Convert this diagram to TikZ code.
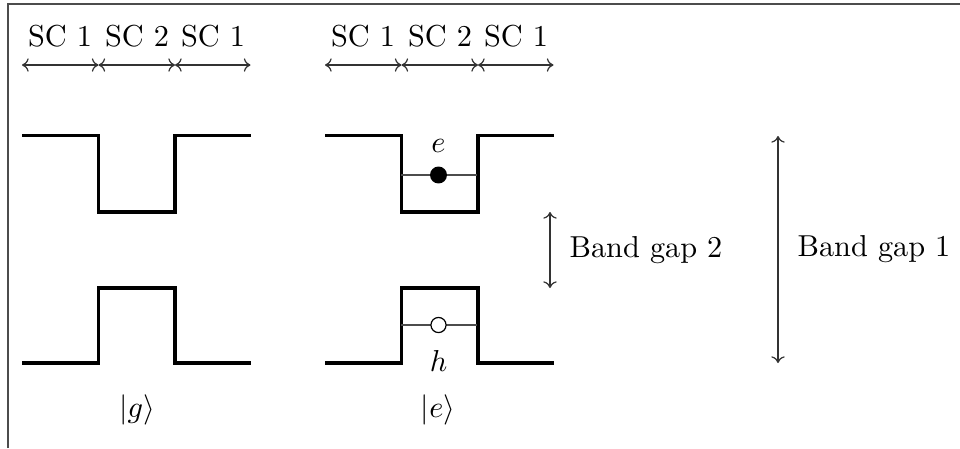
\documentclass[tikz,border=0pt]{standalone}
\usetikzlibrary{arrows.meta}
\begin{document}
\begin{tikzpicture}[x=0.33pt,y=-0.33pt,
  band/.style={line width=1.3pt},
  level/.style={line width=0.4pt,black!70},
  dim/.style={line width=0.4pt,black!80,<->,>={To[length=2.2pt,width=4.4pt]}},
  lab/.style={inner sep=0pt},
  frameline/.style={line width=0.5pt,black!70}]
\useasboundingbox (0,0) rectangle (960,448);
\draw[frameline] (8,448) -- (8,4) -- (960,4);
\foreach \dx/\g in {0/g,303/e}{
  \begin{scope}[xshift=\dx*0.33pt]
  \coordinate (a\g) at (22,65);
  \coordinate (b\g) at (98.5,65);
  \coordinate (c\g) at (175,65);
  \coordinate (d\g) at (250.5,65);
  \draw[dim] (a\g) -- (b\g);
  \draw[dim] (b\g) -- (c\g);
  \draw[dim] (c\g) -- (d\g);
  \node[lab] (s1\g) at (60,36) {SC 1};
  \node[lab] (s2\g) at (137,36) {SC 2};
  \node[lab] (s3\g) at (213,36) {SC 1};
  \draw[band] (22,135.5) -- (98.5,135.5) -- (98.5,212) -- (175,212) -- (175,135.5) -- (250.5,135.5);
  \draw[band] (22,363) -- (98.5,363) -- (98.5,288) -- (175,288) -- (175,363) -- (250.5,363);
  \end{scope}
}
\node[lab] (kg) at (137,410) {$|g\rangle$};
\node[lab] (ke) at (438,410) {$|e\rangle$};
\coordinate (el) at (401,175);
\coordinate (er) at (477,175);
\coordinate (hl) at (401,325);
\coordinate (hr) at (477,325);
\draw[level] (el) -- (er);
\draw[level] (hl) -- (hr);
\node[circle,fill=black,minimum size=5.6pt,inner sep=0pt] (dot) at (438.5,175) {};
\node[circle,draw=black,fill=white,line width=0.4pt,minimum size=5pt,inner sep=0pt] (hole) at (438.5,325) {};
\node[lab] (elab) at (438.5,146) {$e$};
\node[lab] (hlab) at (438.5,361) {$h$};
\coordinate (g2t) at (550,212);
\coordinate (g2b) at (550,288);
\draw[dim] (g2t) -- (g2b);
\node[lab,anchor=west] (bg2) at (569,250) {Band gap 2};
\coordinate (g1t) at (778,136);
\coordinate (g1b) at (778,363);
\draw[dim] (g1t) -- (g1b);
\node[lab,anchor=west] (bg1) at (797,249) {Band gap 1};
\end{tikzpicture}
\end{document}
